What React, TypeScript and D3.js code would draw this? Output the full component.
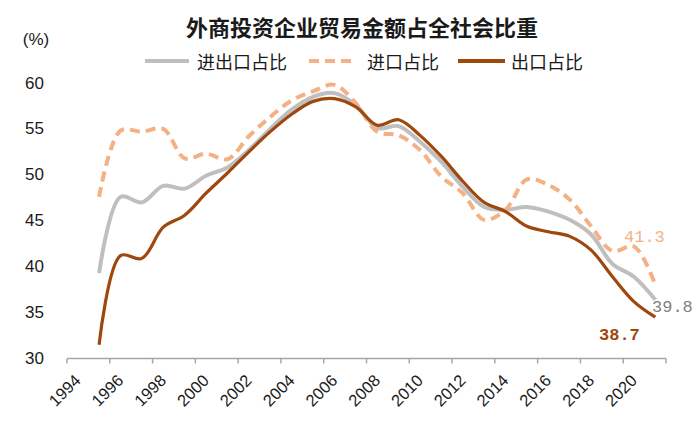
import React from "react";
import * as d3 from "d3";

const title = "外商投资企业贸易金额占全社会比重";
const unitLabel = "(%)";
const seriesNames = ["进出口占比", "进口占比", "出口占比"];
const years = d3.range(1995, 2022);
const totalShare = [39.3, 47.6, 47.0, 48.8, 48.5, 49.9, 50.8, 52.7, 55.0, 57.1, 58.5, 58.9, 57.6, 55.1, 55.3, 53.6, 51.4, 48.7, 46.5, 46.2, 46.5, 46.0, 45.1, 43.5, 40.3, 38.9, 36.4];
const importShare = [47.6, 54.8, 54.7, 55.0, 51.8, 52.3, 51.7, 54.2, 56.3, 58.1, 59.1, 59.8, 57.8, 54.7, 54.3, 52.7, 49.8, 48.0, 45.1, 46.2, 49.5, 48.9, 47.3, 44.4, 41.7, 42.2, 38.0];
const exportShare = [31.5, 41.2, 40.9, 44.3, 45.6, 48.0, 50.2, 52.5, 54.7, 56.6, 58.0, 58.3, 57.4, 55.4, 56.0, 54.3, 52.0, 49.3, 47.0, 46.0, 44.4, 43.8, 43.3, 41.8, 38.9, 36.2, 34.5];
const yTicks = [30, 35, 40, 45, 50, 55, 60];
const xTickYears = d3.range(1994, 2023, 2);
const xLabelYears = d3.range(1994, 2021, 2);
const endLabels = ["41.3", "39.8", "38.7"];

const C_GRAY = "#bfbfbf";
const C_ORANGE = "#f4b183";
const C_BROWN = "#9e480e";

export default function App() {
  const x = d3.scaleLinear().domain([1994, 2022]).range([67, 666]);
  const y = d3.scaleLinear().domain([30, 60]).range([358.5, 83]);
  const line = (vals: number[]) =>
    d3
      .line<number>()
      .x((_, i) => x(years[i] + 0.5))
      .y((v) => y(v))
      .curve(d3.curveCatmullRom.alpha(0.5))(vals) || "";
  const axisY = y(30);
  const sans = "'Liberation Sans', Arial, sans-serif";
  const cjk = "'Noto Sans CJK SC', sans-serif";
  const mono = "'Liberation Mono', monospace";
  return (
    <svg width={700} height={432} style={{ position: "absolute", left: 0, top: 0, background: "#fff" }}>
      <text x={362} y={26} textAnchor="middle" dominantBaseline="central" fontFamily={cjk} fontWeight="bold" fontSize={22} fill="#1a1a1a">
        {title}
      </text>
      <text x={36} y={39} textAnchor="middle" dominantBaseline="central" fontFamily={sans} fontSize={17} fill="#1a1a1a">
        {unitLabel}
      </text>
      {/* legend */}
      <g fontFamily={cjk} fontSize={18} fill="#1a1a1a">
        <line x1={145} x2={189} y1={61} y2={61} stroke={C_GRAY} strokeWidth={4} />
        <text x={197} y={61} dominantBaseline="central">{seriesNames[0]}</text>
        <line x1={309} x2={356} y1={61} y2={61} stroke={C_ORANGE} strokeWidth={4} strokeDasharray="10 6" />
        <text x={367} y={61} dominantBaseline="central">{seriesNames[1]}</text>
        <line x1={458} x2={505} y1={61} y2={61} stroke={C_BROWN} strokeWidth={4} />
        <text x={511} y={61} dominantBaseline="central">{seriesNames[2]}</text>
      </g>
      {/* y tick labels */}
      {yTicks.map((t) => (
        <text key={t} x={44} y={y(t)} textAnchor="end" dominantBaseline="central" fontFamily={sans} fontSize={17} fill="#1a1a1a">
          {t}
        </text>
      ))}
      {/* x axis */}
      <line x1={x(1994)} x2={x(2022)} y1={axisY} y2={axisY} stroke="#a6a6a6" strokeWidth={1.5} />
      {xTickYears.map((t) => (
        <line key={t} x1={x(t)} x2={x(t)} y1={axisY} y2={axisY + 5} stroke="#a6a6a6" strokeWidth={1.5} />
      ))}
      {xLabelYears.map((t) => {
        const ax = x(t + 0.5) + 4;
        const ay = axisY + 23;
        return (
          <text key={t} x={ax} y={ay} textAnchor="end" fontFamily={sans} fontSize={16.5} fill="#1a1a1a" transform={`rotate(-45 ${ax} ${ay})`}>
            {t}
          </text>
        );
      })}
      {/* lines */}
      <path d={line(totalShare)} fill="none" stroke={C_GRAY} strokeWidth={4} strokeLinejoin="round" />
      <path d={line(importShare)} fill="none" stroke={C_ORANGE} strokeWidth={4} strokeDasharray="10 6" />
      <path d={line(exportShare)} fill="none" stroke={C_BROWN} strokeWidth={3.2} strokeLinejoin="round" />
      {/* end labels */}
      <text x={624} y={237} dominantBaseline="central" fontFamily={mono} fontSize={17} fill={C_ORANGE}>{endLabels[0]}</text>
      <text x={652} y={307} dominantBaseline="central" fontFamily={mono} fontSize={17} fill="#7f7f7f">{endLabels[1]}</text>
      <text x={599} y={335} dominantBaseline="central" fontFamily={mono} fontWeight="bold" fontSize={17} fill={C_BROWN}>{endLabels[2]}</text>
    </svg>
  );
}
